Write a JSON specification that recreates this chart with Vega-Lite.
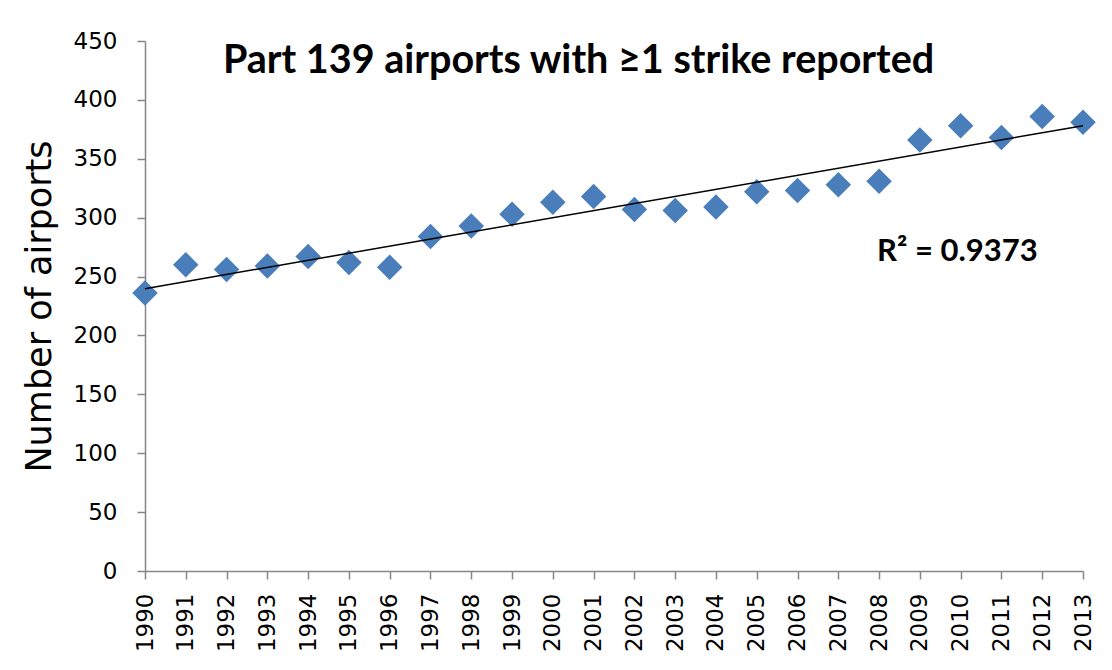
{
  "$schema": "https://vega.github.io/schema/vega-lite/v6.json",
  "width": 938,
  "height": 530,
  "autosize": {"type": "none"},
  "padding": {"left": 145, "top": 41, "right": 29, "bottom": 99},
  "background": "white",
  "config": {"view": {"stroke": null}, "font": "DejaVu Sans"},
  "data": {
    "values": [
      {"year": 1990, "airports": 236},
      {"year": 1991, "airports": 260},
      {"year": 1992, "airports": 256},
      {"year": 1993, "airports": 259},
      {"year": 1994, "airports": 267},
      {"year": 1995, "airports": 262},
      {"year": 1996, "airports": 258},
      {"year": 1997, "airports": 284},
      {"year": 1998, "airports": 293},
      {"year": 1999, "airports": 303},
      {"year": 2000, "airports": 313},
      {"year": 2001, "airports": 318},
      {"year": 2002, "airports": 307},
      {"year": 2003, "airports": 306},
      {"year": 2004, "airports": 309},
      {"year": 2005, "airports": 322},
      {"year": 2006, "airports": 323},
      {"year": 2007, "airports": 328},
      {"year": 2008, "airports": 331},
      {"year": 2009, "airports": 366},
      {"year": 2010, "airports": 378},
      {"year": 2011, "airports": 368},
      {"year": 2012, "airports": 386},
      {"year": 2013, "airports": 381}
    ]
  },
  "layer": [
    {
      "mark": {"type": "point", "shape": "diamond", "filled": true, "size": 650, "color": "#4A7EBB", "opacity": 1},
      "encoding": {
        "x": {
          "field": "year",
          "type": "quantitative",
          "scale": {"domain": [1990, 2013], "nice": false, "zero": false},
          "axis": {
            "values": [1990,1991,1992,1993,1994,1995,1996,1997,1998,1999,2000,2001,2002,2003,2004,2005,2006,2007,2008,2009,2010,2011,2012,2013],
            "format": "d",
            "title": null,
            "grid": false,
            "labelAngle": -90,
            "labelFont": "DejaVu Sans",
            "labelFontSize": 23,
            "labelColor": "black",
            "labelPadding": 14,
            "labelOverlap": false,
            "labelFlush": false,
            "tickSize": 8,
            "tickColor": "#868686",
            "tickWidth": 1.5,
            "domainColor": "#868686",
            "domainWidth": 1.5
          }
        },
        "y": {
          "field": "airports",
          "type": "quantitative",
          "scale": {"domain": [0, 450], "nice": false},
          "axis": {
            "values": [0,50,100,150,200,250,300,350,400,450],
            "title": "Number of airports",
            "titleFont": "DejaVu Sans",
            "titleFontSize": 35,
            "titleFontWeight": "normal",
            "titleColor": "black",
            "titlePadding": 16,
            "grid": false,
            "labelFont": "DejaVu Sans",
            "labelFontSize": 23,
            "labelColor": "black",
            "labelPadding": 20,
            "tickSize": 8,
            "tickColor": "#868686",
            "tickWidth": 1.5,
            "domainColor": "#868686",
            "domainWidth": 1.5
          }
        }
      }
    },
    {
      "transform": [{"regression": "airports", "on": "year"}],
      "mark": {"type": "line", "color": "black", "strokeWidth": 1.5},
      "encoding": {
        "x": {"field": "year", "type": "quantitative"},
        "y": {"field": "airports", "type": "quantitative"}
      }
    },
    {
      "data": {"values": [{"label": "R² = 0.9373"}]},
      "mark": {"type": "text", "font": "Lato", "fontWeight": "bold", "fontSize": 31, "align": "center", "baseline": "alphabetic", "color": "black"},
      "encoding": {
        "text": {"field": "label"},
        "x": {"datum": 2009.92},
        "y": {"datum": 263}
      }
    },
    {
      "data": {"values": [{"label": "Part 139 airports with ≥1 strike reported"}]},
      "mark": {"type": "text", "font": "Lato", "fontWeight": "bold", "fontSize": 39.5, "align": "left", "baseline": "alphabetic", "color": "black"},
      "encoding": {
        "text": {"field": "label"},
        "x": {"datum": 1991.91},
        "y": {"datum": 422.8}
      }
    }
  ]
}
